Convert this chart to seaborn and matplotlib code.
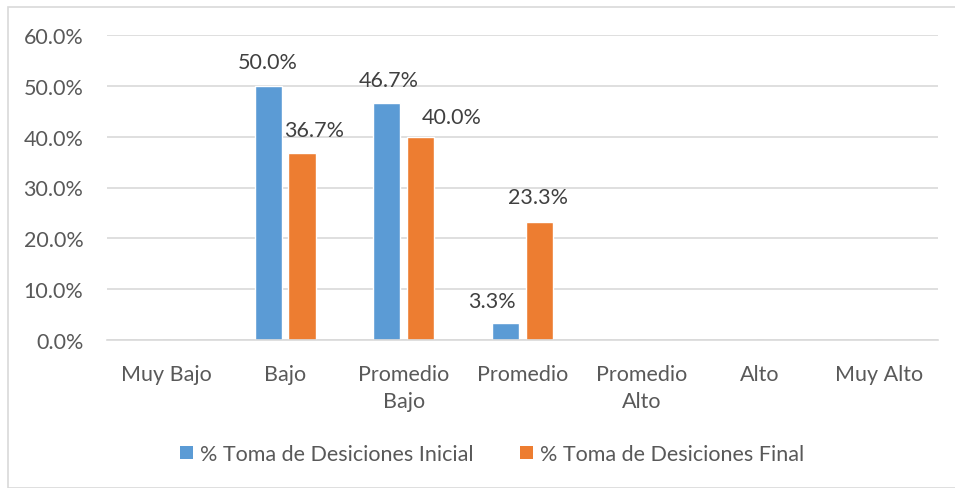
import matplotlib
matplotlib.use("Agg")
import matplotlib.pyplot as plt
import seaborn as sns
import pandas as pd
from matplotlib.patches import Rectangle, Patch

categories = ["Muy Bajo", "Bajo", "Promedio\nBajo", "Promedio", "Promedio\nAlto", "Alto", "Muy Alto"]
inicial = [0.0, 50.0, 46.7, 3.3, 0.0, 0.0, 0.0]
final = [0.0, 36.7, 40.0, 23.3, 0.0, 0.0, 0.0]
series = ["% Toma de Desiciones Inicial", "% Toma de Desiciones Final"]
colors = ["#5B9BD5", "#ED7D31"]
yticks = [0, 10, 20, 30, 40, 50, 60]

# label offsets (pixels) relative to top-centre of each bar, as placed in the reference
label_offsets = [
    [(0, 23), (0, 23.5), (2, 23), (-14, 22.5), (0, 23), (0, 23), (0, 23)],
    [(0, 23), (12.5, 23.5), (31, 19.5), (-1, 25), (0, 23), (0, 23), (0, 23)],
]

df = pd.DataFrame({
    "cat": categories * 2,
    "val": inicial + final,
    "serie": [series[0]] * len(categories) + [series[1]] * len(categories),
})

sns.set_theme(style="white")
plt.rcParams["font.family"] = ["Lato", "DejaVu Sans"]

FS = 15.5
fig = plt.figure(figsize=(9.55, 4.89), dpi=100)
ax = fig.add_axes([107/955, 1-341/489, (938-107)/955, (341-36)/489])

sns.barplot(data=df, x="cat", y="val", hue="serie", palette=colors,
            width=0.57, gap=0.2, ax=ax, legend=False, saturation=1,
            order=categories, hue_order=series)

ax.set_ylim(0, 60)
ax.set_xlim(-0.5, len(categories) - 0.5)
ax.set_yticks(yticks)
ax.set_yticklabels([f"{v:.1f}%" for v in yticks], fontsize=FS, color="#595959")
ax.tick_params(axis="x", labelsize=FS, colors="#595959", length=0, pad=17)
ax.tick_params(axis="y", length=0, pad=17)
for t in ax.get_xticklabels():
    t.set_linespacing(1.45)
ax.set_xlabel("")
ax.set_ylabel("")
ax.yaxis.grid(True, color="#D9D9D9", linewidth=1.2)
ax.set_axisbelow(True)
for s in ["top", "right", "left"]:
    ax.spines[s].set_visible(False)
ax.spines["bottom"].set_color("#D9D9D9")
ax.spines["bottom"].set_linewidth(1.2)

for si, cont in enumerate(ax.containers):
    for ci, b in enumerate(cont):
        h = b.get_height()
        if h <= 0:
            continue
        dx, dy = label_offsets[si][ci]
        ax.annotate(f"{h:.1f}%", xy=(b.get_x() + b.get_width() / 2, h),
                    xytext=(dx * 0.72, dy * 0.72), textcoords="offset points",
                    ha="center", va="center", fontsize=FS, color="#404040")

handles = [Patch(facecolor=c, edgecolor="none") for c in colors]
fig.legend(handles, series, loc="center", bbox_to_anchor=(492/955, 1-455/489),
           ncol=2, frameon=False, fontsize=FS, handlelength=0.6, handleheight=0.6,
           handletextpad=0.3, columnspacing=2.2, labelcolor="#595959")

fig.patches.append(Rectangle((7.5/955, 0), 1.2, 1-7.5/489, transform=fig.transFigure,
                             facecolor="none", edgecolor="#D9D9D9", linewidth=1.2))

fig.savefig("out.png", dpi=100)
